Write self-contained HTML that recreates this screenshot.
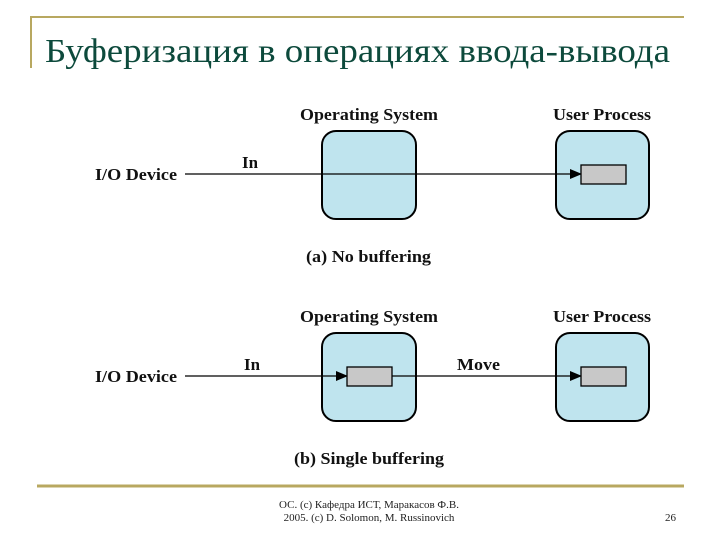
<!DOCTYPE html>
<html><head><meta charset="utf-8"><style>
html,body{margin:0;padding:0;background:#fff;width:720px;height:540px;overflow:hidden}
svg{display:block}
</style></head><body>
<svg width="720" height="540" viewBox="0 0 720 540" xmlns="http://www.w3.org/2000/svg">
<defs><marker id="ar" markerWidth="12" markerHeight="10" refX="11" refY="5" orient="auto" markerUnits="userSpaceOnUse"><path d="M0,0 L12,5 L0,10 Z" fill="#000"/></marker></defs>
<line x1="30" y1="17" x2="684" y2="17" stroke="#b8a860" stroke-width="2"/>
<line x1="31" y1="17" x2="31" y2="68" stroke="#b8a860" stroke-width="2"/>
<text x="45" y="62" font-family="Liberation Serif, serif" font-size="34" fill="#0d4a3c" textLength="625" lengthAdjust="spacingAndGlyphs">Буферизация в операциях ввода-вывода</text>
<g font-family="Liberation Serif, serif" font-weight="bold" font-size="17" fill="#111" lengthAdjust="spacingAndGlyphs">
<text x="300" y="120" textLength="138" lengthAdjust="spacingAndGlyphs">Operating System</text>
<text x="553" y="120" textLength="98" lengthAdjust="spacingAndGlyphs">User Process</text>
<text x="95" y="180" textLength="82" lengthAdjust="spacingAndGlyphs">I/O Device</text>
<text x="242" y="168" textLength="16" lengthAdjust="spacingAndGlyphs">In</text>
<text x="306" y="262" textLength="125" lengthAdjust="spacingAndGlyphs">(a) No buffering</text>
<text x="300" y="322" textLength="138" lengthAdjust="spacingAndGlyphs">Operating System</text>
<text x="553" y="322" textLength="98" lengthAdjust="spacingAndGlyphs">User Process</text>
<text x="95" y="382" textLength="82" lengthAdjust="spacingAndGlyphs">I/O Device</text>
<text x="244" y="370" textLength="16" lengthAdjust="spacingAndGlyphs">In</text>
<text x="457" y="370" textLength="43" lengthAdjust="spacingAndGlyphs">Move</text>
<text x="294" y="464" textLength="150" lengthAdjust="spacingAndGlyphs">(b) Single buffering</text>
</g>
<rect x="322" y="131" width="94" height="88" rx="14" fill="#bfe4ee" stroke="#000" stroke-width="2"/>
<rect x="556" y="131" width="93" height="88" rx="14" fill="#bfe4ee" stroke="#000" stroke-width="2"/>
<line x1="185" y1="174" x2="581" y2="174" stroke="#000" stroke-width="1.3" marker-end="url(#ar)"/>
<rect x="581" y="165" width="45" height="19" fill="#c8c8c8" stroke="#000" stroke-width="1.3"/>
<rect x="322" y="333" width="94" height="88" rx="14" fill="#bfe4ee" stroke="#000" stroke-width="2"/>
<rect x="556" y="333" width="93" height="88" rx="14" fill="#bfe4ee" stroke="#000" stroke-width="2"/>
<line x1="185" y1="376" x2="347" y2="376" stroke="#000" stroke-width="1.3" marker-end="url(#ar)"/>
<rect x="347" y="367" width="45" height="19" fill="#c8c8c8" stroke="#000" stroke-width="1.3"/>
<line x1="392" y1="376" x2="581" y2="376" stroke="#000" stroke-width="1.3" marker-end="url(#ar)"/>
<rect x="581" y="367" width="45" height="19" fill="#c8c8c8" stroke="#000" stroke-width="1.3"/>
<line x1="37" y1="486" x2="684" y2="486" stroke="#b8a860" stroke-width="3"/>
<g font-family="Liberation Serif, serif" font-size="11" fill="#222">
<text x="369" y="508" text-anchor="middle">ОС. (c) Кафедра ИСТ, Маракасов Ф.В.</text>
<text x="369" y="521" text-anchor="middle">2005. (c) D. Solomon, M. Russinovich</text>
<text x="665" y="521">26</text>
</g>
</svg>
</body></html>
